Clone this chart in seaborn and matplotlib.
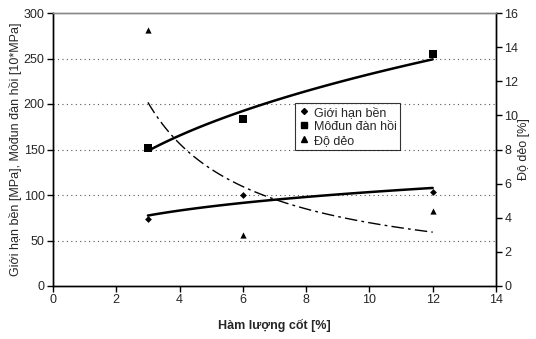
import numpy as np
import pandas as pd
import matplotlib
matplotlib.use("Agg")
import matplotlib.pyplot as plt
import seaborn as sns

# Data
ham_luong = [3, 6, 12]
gioi_han_ben = [74, 100, 103]
modun = [152, 183.5, 255]
do_deo = [15, 3, 4.4]
x_ticks = [0, 2, 4, 6, 8, 10, 12, 14]
y_left_ticks = [0, 50, 100, 150, 200, 250, 300]
y_right_ticks = [0, 2, 4, 6, 8, 10, 12, 14, 16]

sns.set_theme(style="white")
plt.rcParams['font.family'] = ['Liberation Sans', 'DejaVu Sans']
plt.rcParams['font.size'] = 9

fig = plt.figure(figsize=(5.36, 3.39), dpi=100)
ax = fig.add_axes([53/536, 1 - 286/339, 443/536, 273/339])
ax2 = ax.twinx()

def power_fit(x, y):
    x = np.asarray(x, float); y = np.asarray(y, float)
    b, a = np.polyfit(np.log(x), np.log(y), 1)
    xs = np.linspace(x.min(), x.max(), 100)
    return xs, np.exp(a) * xs ** b

df = pd.DataFrame({"x": ham_luong, "g": gioi_han_ben, "m": modun, "d": do_deo})

# Points
sns.scatterplot(data=df, x="x", y="g", ax=ax, marker="D", s=12, color="black",
                edgecolor="black", linewidth=0, legend=False)
sns.scatterplot(data=df, x="x", y="m", ax=ax, marker="s", s=28, color="black",
                edgecolor="black", linewidth=0, legend=False)
sns.scatterplot(data=df, x="x", y="d", ax=ax2, marker="^", s=20, color="black",
                edgecolor="black", linewidth=0, legend=False)

# Trendlines (power fits)
xs, ys = power_fit(ham_luong, gioi_han_ben)
sns.lineplot(x=xs, y=ys, ax=ax, color="black", linewidth=1.8)
xs, ys = power_fit(ham_luong, modun)
sns.lineplot(x=xs, y=ys, ax=ax, color="black", linewidth=1.8)
xs, ys = power_fit(ham_luong, do_deo)
l = sns.lineplot(x=xs, y=ys, ax=ax2, color="black", linewidth=1.0)
l.lines[-1].set_linestyle((0, (9, 3, 2, 3)))

if ax2.get_legend() is not None:
    ax2.get_legend().remove()

ax.set_xlim(0, 14)
ax.set_ylim(0, 300)
ax2.set_ylim(0, 16)
ax.set_xticks(x_ticks)
ax.set_yticks(y_left_ticks)
ax2.set_yticks(y_right_ticks)

for yv in y_left_ticks[1:-1]:
    ax.axhline(yv, color="#555555", linestyle=(0, (1, 3)), linewidth=0.8, zorder=0)

for a in (ax, ax2):
    a.grid(False)
    for s in a.spines.values():
        s.set_color("black")
        s.set_linewidth(1.0)
    a.spines["top"].set_color("#888888")
ax.tick_params(axis="both", direction="out", length=4, width=1, color="black",
               labelsize=9, pad=2, left=True, bottom=True)
ax2.tick_params(axis="y", direction="out", length=4, width=1, color="black",
                labelsize=9, pad=2, right=True)

ax.set_xlabel("Hàm lượng cốt [%]", fontsize=9, fontweight="bold", labelpad=9)
ax.set_ylabel("Giới hạn bền [MPa], Môđun đàn hồi [10*MPa]", fontsize=9, labelpad=1)
ax2.set_ylabel("Độ dẻo [%]", fontsize=9, labelpad=0)

handles = [
    plt.Line2D([], [], marker="D", linestyle="", color="black", markersize=3),
    plt.Line2D([], [], marker="s", linestyle="", color="black", markersize=5),
    plt.Line2D([], [], marker="^", linestyle="", color="black", markersize=4),
]
leg = ax.legend(handles, ["Giới hạn bền", "Môđun đàn hồi", "Độ dẻo"],
                loc="upper left", bbox_to_anchor=(0.546, 0.67), frameon=True,
                fancybox=False, edgecolor="black", fontsize=9, handlelength=0.8,
                handletextpad=0.4, borderpad=0.3, labelspacing=0.15,
                borderaxespad=0)
leg.get_frame().set_linewidth(0.8)

fig.savefig("out.png", dpi=100)
